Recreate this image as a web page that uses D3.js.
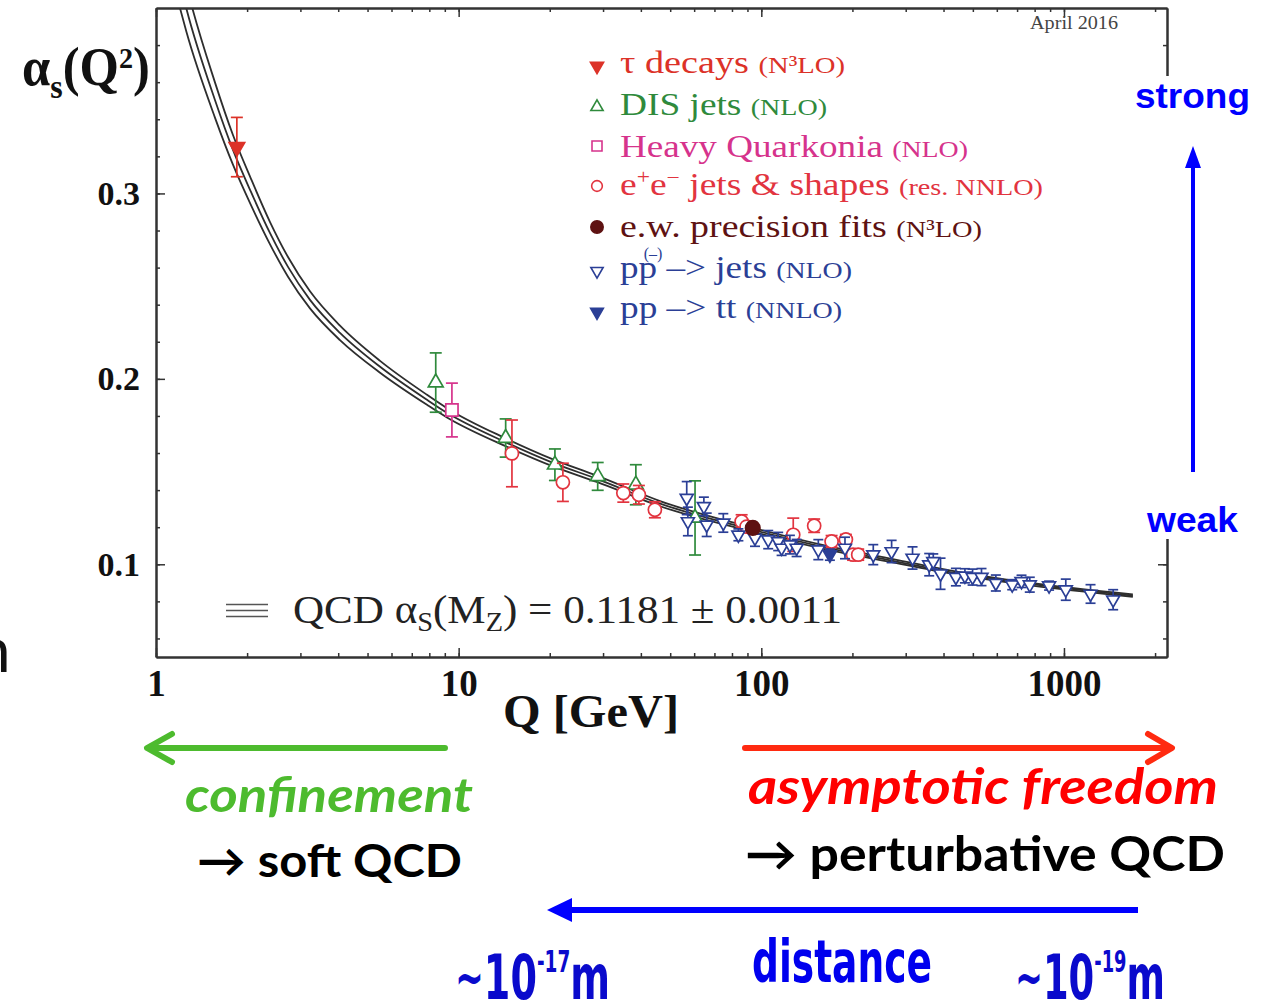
<!DOCTYPE html>
<html>
<head>
<meta charset="utf-8">
<script src="https://cdn.jsdelivr.net/npm/d3@7"></script>
<style>
  body { margin: 0; background: #fff; }
  svg { display: block; }
</style>
</head>
<body>
<script>
// ---- values: [Q (GeV), alpha_s, error] ----
const tauDecays = [[1.85, 0.325, 0.016]];
const disJets = [
  [8.4, 0.198, 0.016], [14.3, 0.1681, 0.0103], [20.8, 0.1537, 0.0085],
  [28.8, 0.1474, 0.0075], [38.5, 0.1429, 0.0108], [60.4, 0.125, 0.020]
];
const heavyQuarkonia = [[9.5, 0.1832, 0.0145]];
const eeJets = [
  [15.0, 0.1598, 0.018], [22.1, 0.1442, 0.0103], [35.0, 0.1384, 0.0049],
  [39.4, 0.1375, 0.005], [44.5, 0.1294, 0.0043], [86.1, 0.1231, 0.0036],
  [89.4, 0.1203, 0.003], [127.5, 0.1159, 0.009], [149.5, 0.1208, 0.0036],
  [170.7, 0.1123, 0.0032], [190.3, 0.1134, 0.0027], [201, 0.1052, 0.003],
  [209, 0.1052, 0.003]
];
const ewFits = [[93.7, 0.1196, 0.003]];
const ppJets = [
  [56.7, 0.1357, 0.0089], [57.2, 0.1231, 0.0077], [64.6, 0.1312, 0.005],
  [66.0, 0.1213, 0.0063], [74.9, 0.1223, 0.005], [84.0, 0.1159, 0.0032],
  [95.3, 0.1142, 0.0045], [105.4, 0.1133, 0.0049], [113.7, 0.1123, 0.0049],
  [116.7, 0.1088, 0.004], [124.3, 0.1106, 0.005], [130.8, 0.1088, 0.0046],
  [154.3, 0.1079, 0.0054], [189, 0.1088, 0.0058], [234.4, 0.1052, 0.0054],
  [269.5, 0.1069, 0.006], [316, 0.1034, 0.006], [358.7, 0.0998, 0.006],
  [370, 0.1016, 0.004], [391, 0.0949, 0.0084], [439.5, 0.0931, 0.0047],
  [470.7, 0.0938, 0.0038], [499, 0.0931, 0.0043], [534, 0.0931, 0.0046],
  [595.6, 0.0899, 0.0043], [674.6, 0.089, 0.0027], [724, 0.0908, 0.0033],
  [771, 0.089, 0.004], [893, 0.0885, 0.0024], [1014, 0.0863, 0.0057],
  [1224, 0.084, 0.005], [1454, 0.0809, 0.0054]
];
const ppTT = [[168.5, 0.1052, 0.003]];

// QCD running coupling band (central line and half width)
const curveQ = [1.2, 1.261, 1.566, 1.796, 2.06, 2.379, 2.73, 3.227, 4.054, 5.5, 7.86,
  9.15, 14.44, 20.5, 28.6, 46.3, 93.8, 164.7, 272, 453, 1689];
const curveAlpha = [0.4135, 0.3995, 0.3504, 0.3235, 0.3008, 0.2787, 0.2604, 0.2426,
  0.2248, 0.2065, 0.1887, 0.1817, 0.1655, 0.1547, 0.1461, 0.1327, 0.1186, 0.1089,
  0.1019, 0.0949, 0.0831];
const bandHalf = [0.0135, 0.0125, 0.0095, 0.008, 0.0071, 0.006, 0.0053, 0.0046,
  0.0039, 0.0032, 0.0027, 0.0025, 0.0021, 0.0019, 0.0017, 0.0014, 0.0011, 0.001,
  0.0009, 0.0008, 0.0006];

const qMajor = [1, 10, 100, 1000];
const alphaMajor = [0.1, 0.2, 0.3];

const serif = "'Liberation Serif', 'Times New Roman', serif";
const sans = "'Liberation Sans', Arial, sans-serif";
const narrow = "'Liberation Sans Narrow', 'DejaVu Sans Condensed', 'Liberation Sans', sans-serif";
const calibri = "Lato, 'Open Sans', sans-serif";

const svg = d3.select("body").append("svg")
  .attr("width", 1266).attr("height", 1001);

const x = d3.scaleLog().domain([1, 2190]).range([156, 1167]);
const y = d3.scaleLinear().domain([0.05, 0.4]).range([657, 8]);

// ---- axes (ticks pointing inward on all four sides) ----
const qTicks = x.ticks();
const alphaTicks = d3.range(6, 40, 2).map(v => v / 100);

function styleAxis(g) {
  g.select(".domain").attr("stroke", "#333").attr("stroke-width", 2);
  g.selectAll(".tick line").attr("stroke", "#333").attr("stroke-width", 1.5);
}

svg.append("g").attr("transform", "translate(0,657)")
  .call(d3.axisBottom(x).tickValues(qTicks).tickSize(-4).tickSizeOuter(0).tickFormat(""))
  .call(styleAxis);
const xMaj = svg.append("g").attr("transform", "translate(0,657)")
  .call(d3.axisBottom(x).tickValues(qMajor).tickSize(-9).tickSizeOuter(0)
    .tickPadding(13).tickFormat(d3.format("d")))
  .call(styleAxis);
xMaj.selectAll("text").attr("font-family", serif).attr("font-weight", "bold")
  .attr("font-size", 37).attr("fill", "#111");

svg.append("g").attr("transform", "translate(0,8)")
  .call(d3.axisTop(x).tickValues(qTicks).tickSize(-4).tickSizeOuter(0).tickFormat(""))
  .call(styleAxis);
svg.append("g").attr("transform", "translate(0,8)")
  .call(d3.axisTop(x).tickValues(qMajor).tickSize(-9).tickSizeOuter(0).tickFormat(""))
  .call(styleAxis);

svg.append("g").attr("transform", "translate(156,0)")
  .call(d3.axisLeft(y).tickValues(alphaTicks).tickSize(-4).tickSizeOuter(0).tickFormat(""))
  .call(styleAxis);
const yMaj = svg.append("g").attr("transform", "translate(156,0)")
  .call(d3.axisLeft(y).tickValues(alphaMajor).tickSize(-9).tickSizeOuter(0)
    .tickPadding(16).tickFormat(d3.format(".1f")))
  .call(styleAxis);
yMaj.selectAll("text").attr("font-family", serif).attr("font-weight", "bold")
  .attr("font-size", 34).attr("fill", "#111");

svg.append("g").attr("transform", "translate(1167,0)")
  .call(d3.axisRight(y).tickValues(alphaTicks).tickSize(-4).tickSizeOuter(0).tickFormat(""))
  .call(styleAxis);
svg.append("g").attr("transform", "translate(1167,0)")
  .call(d3.axisRight(y).tickValues(alphaMajor).tickSize(-9).tickSizeOuter(0).tickFormat(""))
  .call(styleAxis);

// white panel that hides part of the right frame (strong/weak area)
svg.append("rect").attr("x", 1154).attr("y", 76).attr("width", 112).attr("height", 463)
  .attr("fill", "#fff");

// ---- QCD band ----
svg.append("clipPath").attr("id", "plotClip")
  .append("rect").attr("x", 156).attr("y", 9).attr("width", 1011).attr("height", 648);

const band = curveQ.map((q, i) => ({ q: q, a: curveAlpha[i], h: bandHalf[i] }));
const bandG = svg.append("g").attr("clip-path", "url(#plotClip)");
[-1, 0, 1].forEach(s => {
  bandG.append("path")
    .datum(band)
    .attr("fill", "none")
    .attr("stroke", "#2e2e2e")
    .attr("stroke-width", 1.8)
    .attr("d", d3.line()
      .x(d => x(d.q))
      .y(d => y(d.a + s * d.h))
      .curve(d3.curveMonotoneX));
});

// ---- data points ----
function drawSeries(data, color, type, size, rot, filled, cap) {
  const g = svg.append("g");
  data.forEach(d => {
    const cx = x(d[0]);
    const y1 = y(d[1] - d[2]), y2 = y(d[1] + d[2]);
    g.append("line").attr("x1", cx).attr("x2", cx).attr("y1", y1).attr("y2", y2)
      .attr("stroke", color).attr("stroke-width", 1.7);
    [y1, y2].forEach(yy => {
      g.append("line").attr("x1", cx - cap).attr("x2", cx + cap).attr("y1", yy).attr("y2", yy)
        .attr("stroke", color).attr("stroke-width", 1.7);
    });
  });
  g.selectAll("path.m")
    .data(data)
    .enter().append("path")
    .attr("class", "m")
    .attr("d", d3.symbol().type(type).size(size))
    .attr("transform", d => `translate(${x(d[0])},${y(d[1])}) rotate(${rot})`)
    .attr("fill", filled ? color : "#fff")
    .attr("stroke", color)
    .attr("stroke-width", 1.7);
}

const cTau = "#dc3228", cDis = "#2f8a3c", cHeavy = "#d6338c", cEE = "#e2343f",
  cEW = "#5e1212", cPP = "#2b3f96";

drawSeries(disJets, cDis, d3.symbolTriangle, 95, 0, false, 6);
drawSeries(heavyQuarkonia, cHeavy, d3.symbolSquare, 150, 0, false, 6);
drawSeries(eeJets, cEE, d3.symbolCircle, 135, 0, false, 6);
drawSeries(ppJets, cPP, d3.symbolTriangle, 72, 180, false, 5);
drawSeries(ppTT, cPP, d3.symbolTriangle, 75, 180, true, 5);
drawSeries(ewFits, cEW, d3.symbolCircle, 165, 0, true, 5);
drawSeries(tauDecays, cTau, d3.symbolTriangle, 105, 180, true, 6);

// ---- legend ----
const legend = svg.append("g").attr("font-family", serif);
function legendMarker(my, color, type, size, rot, filled) {
  legend.append("path")
    .attr("d", d3.symbol().type(type).size(size))
    .attr("transform", `translate(597,${my}) rotate(${rot})`)
    .attr("fill", filled ? color : "#fff")
    .attr("stroke", color).attr("stroke-width", 1.6);
}
function legendText(ty, color, w, parts) {
  const t = legend.append("text").attr("x", 620).attr("y", ty).attr("fill", color)
    .attr("textLength", w).attr("lengthAdjust", "spacingAndGlyphs");
  parts.forEach(p => t.append("tspan").attr("font-size", p[1]).attr("dy", p[2] || 0).text(p[0]));
}

legendMarker(66, cTau, d3.symbolTriangle, 75, 180, true);
legendText(73, cTau, 225, [["τ decays ", 32], ["(N³LO)", 24]]);
legendMarker(107, cDis, d3.symbolTriangle, 65, 0, false);
legendText(115, cDis, 207, [["DIS jets ", 32], ["(NLO)", 24]]);
legendMarker(146, cHeavy, d3.symbolSquare, 100, 0, false);
legendText(157, cHeavy, 348, [["Heavy Quarkonia ", 32], ["(NLO)", 24]]);
legendMarker(186, cEE, d3.symbolCircle, 90, 0, false);
legendText(195, cEE, 423, [["e", 32], ["+", 20, -11], ["e", 32, 11], ["−", 20, -11],
  ["  jets & shapes ", 32, 11], ["(res. NNLO)", 24]]);
legendMarker(227, cEW, d3.symbolCircle, 120, 0, true);
legendText(237, cEW, 362, [["e.w. precision fits ", 32], ["(N³LO)", 24]]);
legendMarker(271, cPP, d3.symbolTriangle, 65, 180, false);
legendText(278, cPP, 232, [["pp –> jets ", 32], ["(NLO)", 24]]);
legend.append("text").attr("x", 653).attr("y", 259).attr("text-anchor", "middle")
  .attr("font-size", 16).attr("fill", cPP).text("(–)");
legendMarker(312, cPP, d3.symbolTriangle, 70, 180, true);
legendText(318, cPP, 222, [["pp –> tt ", 32], ["(NNLO)", 24]]);

svg.append("text").attr("x", 1030).attr("y", 29).attr("font-family", serif)
  .attr("font-size", 18).attr("fill", "#444")
  .attr("textLength", 88).attr("lengthAdjust", "spacingAndGlyphs").text("April 2016");

// QCD band key
[604.5, 610.5, 616.5].forEach(yy => {
  svg.append("line").attr("x1", 226).attr("x2", 268).attr("y1", yy).attr("y2", yy)
    .attr("stroke", "#555").attr("stroke-width", 1.5);
});
const qcd = svg.append("text").attr("x", 293).attr("y", 623).attr("font-family", serif)
  .attr("fill", "#222").attr("textLength", 549).attr("lengthAdjust", "spacingAndGlyphs");
[["QCD α", 41], ["S", 27, 8], ["(M", 41, -8], ["Z", 27, 8], [") = 0.1181 ± 0.0011", 41, -8]]
  .forEach(p => qcd.append("tspan").attr("font-size", p[1]).attr("dy", p[2] || 0).text(p[0]));

// axis titles
const yl = svg.append("text").attr("x", 22).attr("y", 85).attr("font-family", serif)
  .attr("font-weight", "bold").attr("fill", "#111")
  .attr("textLength", 128).attr("lengthAdjust", "spacingAndGlyphs");
[["α", 54], ["s", 34, 13], ["(Q", 54, -13], ["2", 30, -17], [")", 54, 17]]
  .forEach(p => yl.append("tspan").attr("font-size", p[1]).attr("dy", p[2] || 0).text(p[0]));

svg.append("text").attr("x", 503).attr("y", 727).attr("font-family", serif)
  .attr("font-weight", "bold").attr("font-size", 47).attr("fill", "#111")
  .attr("textLength", 176).attr("lengthAdjust", "spacingAndGlyphs").text("Q [GeV]");

// ---- strong / weak ----
svg.append("text").attr("x", 1135).attr("y", 108).attr("font-family", sans)
  .attr("font-weight", "bold").attr("font-size", 35).attr("fill", "#0000ff")
  .attr("textLength", 115).attr("lengthAdjust", "spacingAndGlyphs").text("strong");
svg.append("text").attr("x", 1147).attr("y", 532).attr("font-family", sans)
  .attr("font-weight", "bold").attr("font-size", 35).attr("fill", "#0000ff")
  .attr("textLength", 91).attr("lengthAdjust", "spacingAndGlyphs").text("weak");
svg.append("line").attr("x1", 1193).attr("x2", 1193).attr("y1", 472).attr("y2", 165)
  .attr("stroke", "#0000ff").attr("stroke-width", 4);
svg.append("path").attr("d", "M1193,146 L1201,168 L1185,168 Z").attr("fill", "#0000ff");

// ---- bottom annotations ----
svg.append("path").attr("d", "M445,748 L148,748 M172,734 L147,748 L172,762")
  .attr("fill", "none").attr("stroke", "#4dbb2e").attr("stroke-width", 6)
  .attr("stroke-linecap", "round").attr("stroke-linejoin", "round");
svg.append("path").attr("d", "M745,748 L1170,748 M1148,734 L1172,748 L1148,762")
  .attr("fill", "none").attr("stroke", "#ff2a10").attr("stroke-width", 6)
  .attr("stroke-linecap", "round").attr("stroke-linejoin", "round");
svg.append("line").attr("x1", 1138).attr("x2", 565).attr("y1", 910).attr("y2", 910)
  .attr("stroke", "#0000ff").attr("stroke-width", 6);
svg.append("path").attr("d", "M547,910 L572,898 L572,922 Z").attr("fill", "#0000ff");

function label(tx, ty, txt, opts) {
  return svg.append("text").attr("x", tx).attr("y", ty)
    .attr("font-family", opts.family).attr("font-size", opts.size)
    .attr("font-weight", opts.weight || "normal").attr("font-style", opts.style || "normal")
    .attr("fill", opts.fill)
    .attr("textLength", opts.w).attr("lengthAdjust", "spacingAndGlyphs")
    .text(txt);
}
label(185, 812, "confinement", { family: calibri, size: 48, weight: "bold", style: "italic", fill: "#4dbb2e", w: 288 });
label(197, 877, "→ soft QCD", { family: calibri, size: 46, weight: "bold", fill: "#000", w: 265 });
label(748, 804, "asymptotic freedom", { family: calibri, size: 50, weight: "bold", style: "italic", fill: "#ff0000", w: 470 });
label(745, 871, "→ perturbative QCD", { family: calibri, size: 48, weight: "bold", fill: "#000", w: 480 });
label(752, 982, "distance", { family: narrow, size: 58, weight: "bold", fill: "#0000ee", w: 180 });

function distLabel(tx, exp, w) {
  const t = svg.append("text").attr("x", tx).attr("y", 999).attr("font-family", narrow)
    .attr("font-weight", "bold").attr("fill", "#0a0acc")
    .attr("textLength", w).attr("lengthAdjust", "spacingAndGlyphs");
  [["~", 56, -3], ["10", 62, 3], [exp, 30, -27], ["m", 62, 27]]
    .forEach(p => t.append("tspan").attr("font-size", p[1]).attr("dy", p[2] || 0).text(p[0]));
}
distLabel(455, "-17", 155);
distLabel(1015, "-19", 150);

// stray glyph at the left edge of the slide
svg.append("text").attr("x", -24).attr("y", 672).attr("font-family", calibri)
  .attr("font-size", 62).attr("fill", "#111").text("n");
</script>
</body>
</html>
